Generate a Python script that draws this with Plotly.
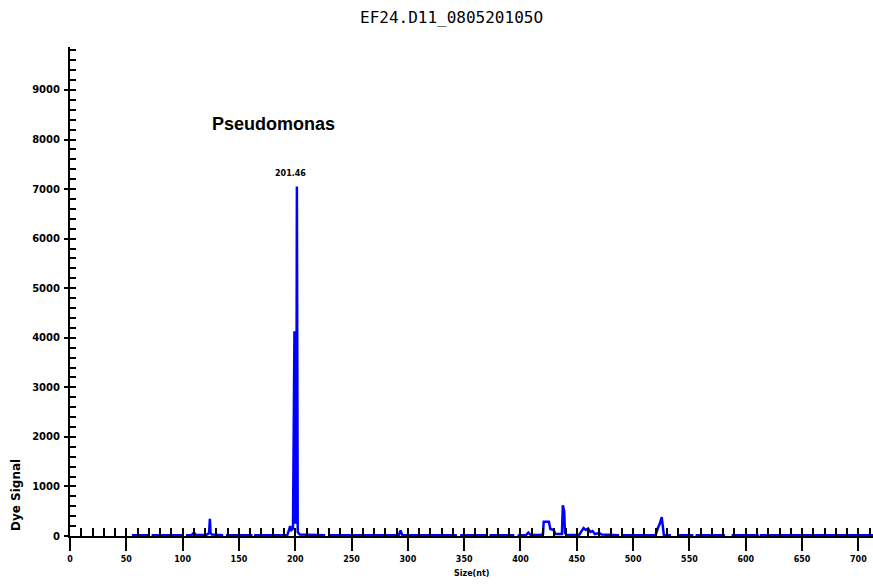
import plotly.graph_objects as go

# Electropherogram trace: fragment size (nt) vs dye signal
size_nt = [
    55, 68.5, 69, 73, 73.5, 98.5, 99, 103.5, 104, 108, 110, 112, 121, 123.5, 124.2, 124.8,
    126, 135, 135.5, 139, 139.5, 161, 161.5, 164, 164.5, 193, 195.5, 196.5, 198, 199.3,
    200.2, 200.9, 201.46, 202.2, 204, 215, 225.5, 226, 231, 231.5, 260, 288, 292, 293.5,
    295, 300, 342.5, 343, 347, 347.5, 368.5, 369, 373, 373.5, 393.5, 394, 398, 398.5, 405,
    407, 409, 418, 420, 420.6, 425.2, 426.5, 429.5, 431, 436.8, 437.6, 438.8, 439.5, 441,
    452, 454, 456, 458, 460, 462, 464, 466, 470, 472, 480, 486.5, 487, 490, 490.5, 520, 522,
    523.6, 525.4, 526.6, 527.3, 532.5, 533, 540, 540.5, 552.5, 553, 556, 556.5, 580.5, 581,
    588, 588.5, 610.5, 611, 613, 613.5, 638.5, 639, 641, 641.5, 713,
]
dye_signal = [
    15, 15, -60, -60, 15, 15, -60, -60, 15, 20, 70, 20, 20, 60, 345, 60,
    30, 15, -60, -60, 15, 15, -60, -60, 15, 20, 200, 120, 150, 4130,
    250, 300, 7050, 80, 30, 15, 15, -60, -60, 15, 15, 20, 20, 110,
    20, 15, 15, -60, -60, 15, 15, -60, -60, 15, 15, -60, -60, 15, 20,
    70, 20, 20, 40, 290, 290, 140, 120, 40, 40, 620, 500, 60, 20,
    20, 80, 160, 120, 150, 80, 100, 40, 60, 30, 15, 15, -60, -60, 15, 20, 160,
    240, 380, 200, 20, 15, -60, -60, 15, 15, -60, -60, 15, 15, -60,
    -60, 15, 15, -60, -60, 15, 15, -60, -60, 15, 15,
]

peak_size = 201.46
x_major = list(range(0, 701, 50))
x_minor = list(range(0, 711, 10))
y_major = list(range(0, 9001, 1000))
y_minor = list(range(0, 9801, 200))

X_RANGE = [0, 713]
Y_RANGE = [0, 9867]

fig = go.Figure()
fig.add_trace(go.Scatter(
    x=size_nt, y=dye_signal, mode="lines",
    line=dict(color="#0000ff", width=2.5),
    hoverinfo="x+y", showlegend=False,
))
# helper trace so the inside-tick axes are rendered
fig.add_trace(go.Scatter(x=[None], y=[None], xaxis="x2", yaxis="y2",
                         showlegend=False, hoverinfo="skip"))

tick_font_x = dict(family="DejaVu Sans", size=8, color="black", weight="bold")
tick_font_y = dict(family="DejaVu Sans", size=10, color="black", weight="bold")

fig.update_layout(
    width=873, height=588,
    margin=dict(l=70, r=0, t=47, b=52),
    paper_bgcolor="white", plot_bgcolor="white",
    font=dict(family="DejaVu Sans", color="black"),
    xaxis=dict(
        range=X_RANGE, tickvals=x_major, ticktext=[str(v) for v in x_major],
        ticks="outside", ticklen=13, tickwidth=1.5, tickcolor="black",
        showline=True, linecolor="black", linewidth=2, showgrid=False, zeroline=False,
        tickfont=tick_font_x, layer="below traces", ticklabelstandoff=1,
    ),
    yaxis=dict(
        range=Y_RANGE, tickvals=y_major, ticktext=[str(v) for v in y_major],
        ticks="outside", ticklen=4, tickwidth=1.5, tickcolor="black",
        showline=True, linecolor="black", linewidth=2, showgrid=False, zeroline=False,
        tickfont=tick_font_y, layer="below traces", ticklabelstandoff=2,
    ),
    xaxis2=dict(
        range=X_RANGE, overlaying="x", anchor="y", side="bottom",
        tickvals=x_minor, ticks="inside", ticklen=8, tickwidth=1.5, tickcolor="black",
        showticklabels=False, showline=False, showgrid=False, zeroline=False,
    ),
    yaxis2=dict(
        range=Y_RANGE, overlaying="y", anchor="x", side="left",
        tickvals=y_minor, ticks="inside", ticklen=6, tickwidth=1.5, tickcolor="black",
        showticklabels=False, showline=False, showgrid=False, zeroline=False,
    ),
)

fig.add_annotation(
    text="EF24.D11_080520105O", xref="paper", yref="paper", x=0.4745, y=1.0613,
    showarrow=False, xanchor="center", yanchor="middle",
    font=dict(family="DejaVu Sans Mono", size=16, color="black"),
)
fig.add_annotation(
    text="Pseudomonas", xref="x", yref="y", x=124, y=8313,
    showarrow=False, xanchor="left", yanchor="middle",
    font=dict(family="Liberation Sans", size=18, color="black", weight="bold"),
)
fig.add_annotation(
    text=f"{peak_size:.2f}", xref="x", yref="y", x=peak_size, y=7324, xshift=-6,
    showarrow=False, xanchor="center", yanchor="middle",
    font=dict(family="DejaVu Sans", size=8, color="black", weight="bold"),
)
fig.add_annotation(
    text="Size(nt)", xref="paper", yref="paper", x=0.5, y=-0.0757,
    showarrow=False, xanchor="center", yanchor="middle",
    font=dict(family="DejaVu Sans", size=8, color="black", weight="bold"),
)
fig.add_annotation(
    text="Dye Signal", xref="paper", yref="paper", x=-0.0672, y=0.0838,
    showarrow=False, xanchor="center", yanchor="middle", textangle=-90,
    font=dict(family="DejaVu Sans", size=12, color="black", weight="bold"),
)

fig.write_html("out.html")
